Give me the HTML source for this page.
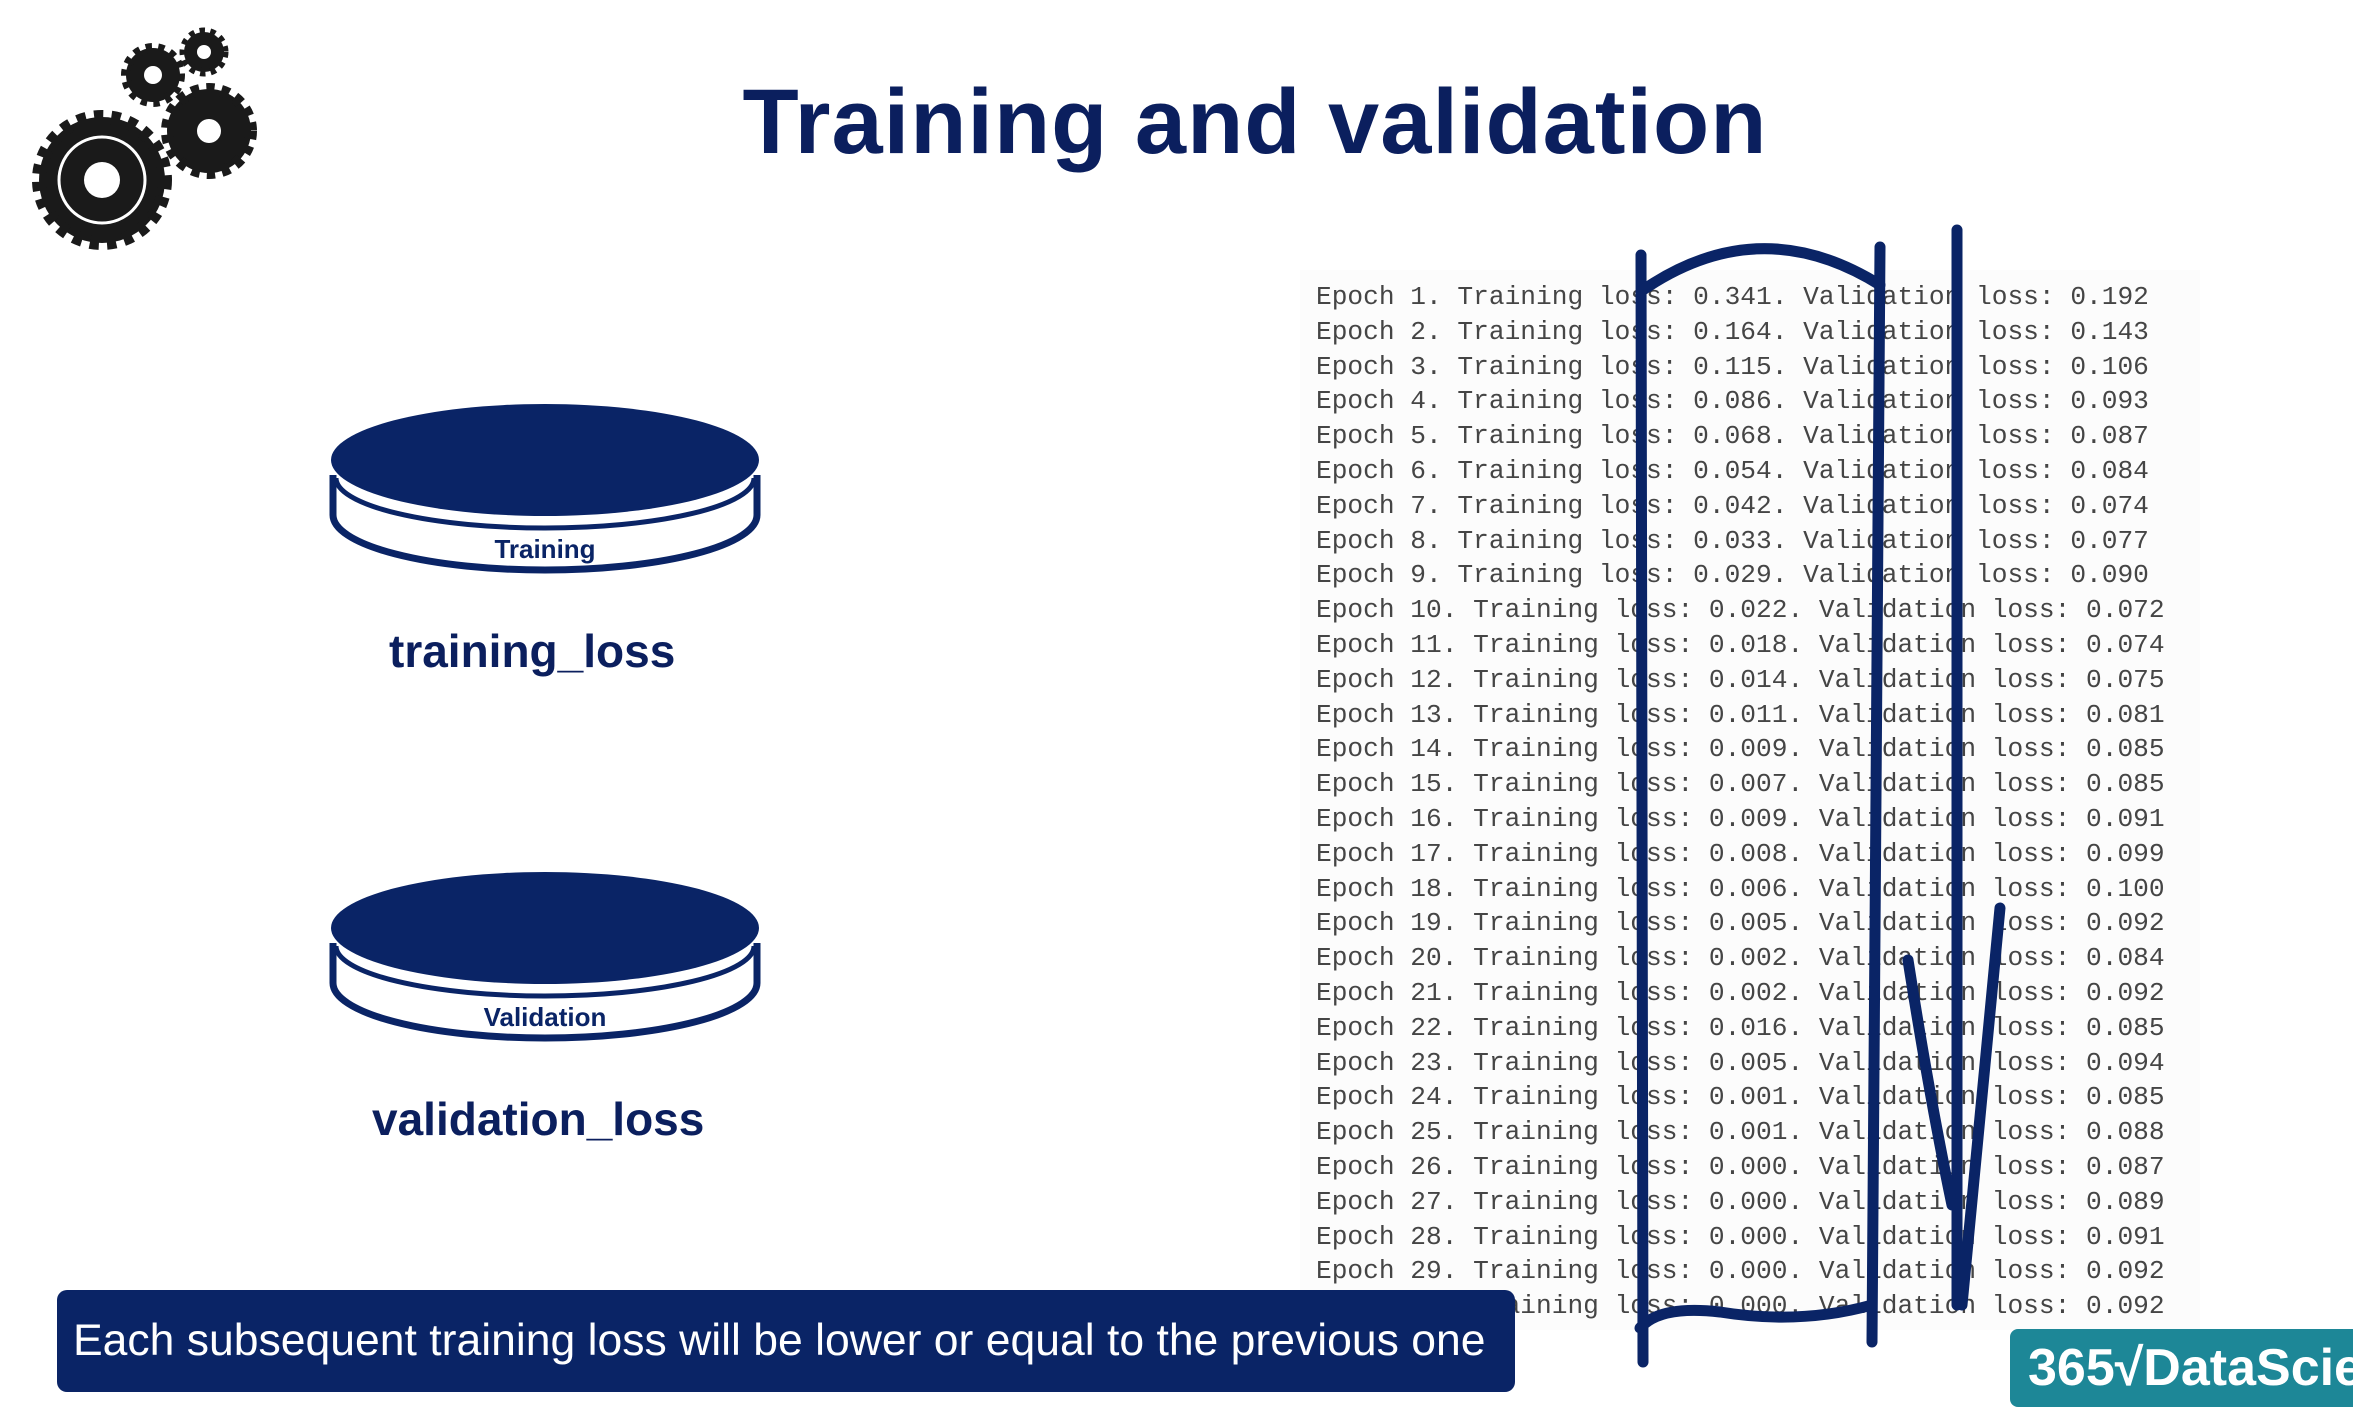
<!DOCTYPE html>
<html><head><meta charset="utf-8"><style>
html,body{margin:0;padding:0;background:#fff;}
#root{position:relative;width:2353px;height:1407px;overflow:hidden;background:#fff;font-family:"Liberation Sans",sans-serif;}
.title{position:absolute;left:0;width:2510px;top:70px;text-align:center;font-size:92px;font-weight:bold;color:#0b1f5e;letter-spacing:1px;}
.lbl{position:absolute;font-size:46px;font-weight:bold;color:#0b1f5e;}
#log{position:absolute;left:1300px;top:270px;width:900px;height:1060px;background:#fcfcfc;}
.line{position:absolute;left:16px;font-family:"Liberation Mono",monospace;font-size:26.2px;color:#454545;white-space:pre;}
.banner{position:absolute;left:57px;top:1290px;width:1458px;height:102px;background:#0a2466;border-radius:10px;color:#fff;font-size:44.5px;line-height:102px;padding-left:16px;box-sizing:border-box;white-space:nowrap;}
.logo{position:absolute;left:2010px;top:1329px;width:360px;height:78px;background:#1d8797;border-radius:8px;color:#fff;font-size:52px;font-weight:bold;line-height:78px;padding-left:18px;box-sizing:border-box;white-space:nowrap;}
</style></head><body>
<div id="root">
<svg style="position:absolute;left:0;top:0" width="320" height="280">
 <g fill="#1a1a1a" stroke="#1a1a1a">
  <circle cx="102" cy="180" r="63" stroke-width="14" stroke-dasharray="9 8"/>
  <circle cx="209" cy="131" r="42" stroke-width="12" stroke-dasharray="8 7"/>
  <circle cx="153" cy="75" r="27" stroke-width="10" stroke-dasharray="6 6"/>
  <circle cx="204" cy="52" r="20" stroke-width="9" stroke-dasharray="5 5"/>
 </g>
 <circle cx="102" cy="180" r="43" fill="none" stroke="#fff" stroke-width="3"/>
 <circle cx="102" cy="180" r="18" fill="#fff"/>
 <circle cx="209" cy="131" r="12" fill="#fff"/>
 <circle cx="153" cy="75" r="9" fill="#fff"/>
 <circle cx="204" cy="52" r="7" fill="#fff"/>
</svg>
<div class="title">Training and validation</div>

<svg style="position:absolute;left:320px;top:390px" width="460" height="680">
 <g>
  <path d="M13 85 L13 125 A212 55 0 0 0 437 125 L437 85" fill="#fff" stroke="#0a2466" stroke-width="7"/>
  <path d="M16 88 A209 50 0 0 0 434 88" fill="none" stroke="#0a2466" stroke-width="5"/>
  <ellipse cx="225" cy="70" rx="214" ry="56" fill="#0a2466"/>
  <text x="225" y="168" text-anchor="middle" font-size="26" font-weight="bold" fill="#0a2466" font-family="Liberation Sans">Training</text>
 </g>
 <g transform="translate(0,468)">
  <path d="M13 85 L13 125 A212 55 0 0 0 437 125 L437 85" fill="#fff" stroke="#0a2466" stroke-width="7"/>
  <path d="M16 88 A209 50 0 0 0 434 88" fill="none" stroke="#0a2466" stroke-width="5"/>
  <ellipse cx="225" cy="70" rx="214" ry="56" fill="#0a2466"/>
  <text x="225" y="168" text-anchor="middle" font-size="26" font-weight="bold" fill="#0a2466" font-family="Liberation Sans">Validation</text>
 </g>
</svg>
<div class="lbl" style="left:389px;top:624px">training_loss</div>
<div class="lbl" style="left:372px;top:1092px">validation_loss</div>

<div id="log"></div>

<svg style="position:absolute;left:0;top:0" width="2353" height="1407">
 <g fill="none" stroke="#0a2466" stroke-width="11" stroke-linecap="round">
  <path d="M1641 255 L1643 1362"/>
  <path d="M1880 247 L1872 1342"/>
  <path d="M1643 290 Q1760 210 1880 285"/>
  <path d="M1640 1328 Q1660 1305 1720 1312 Q1800 1325 1872 1305"/>
  <path d="M1957 230 L1957 1305"/>
  <path d="M2000 908 L1962 1305"/>
  <path d="M1908 960 Q1930 1100 1952 1205"/>
 </g>
</svg>

<div class="banner">Each subsequent training loss will be lower or equal to the previous one</div>
<div class="logo">365√DataScience</div>
</div>
<script>
const epochs = [1,2,3,4,5,6,7,8,9,10,11,12,13,14,15,16,17,18,19,20,21,22,23,24,25,26,27,28,29,30];
const trainLoss = [0.341,0.164,0.115,0.086,0.068,0.054,0.042,0.033,0.029,0.022,0.018,0.014,0.011,0.009,0.007,0.009,0.008,0.006,0.005,0.002,0.002,0.016,0.005,0.001,0.001,0.000,0.000,0.000,0.000,0.000];
const valLoss = [0.192,0.143,0.106,0.093,0.087,0.084,0.074,0.077,0.090,0.072,0.074,0.075,0.081,0.085,0.085,0.091,0.099,0.100,0.092,0.084,0.092,0.085,0.094,0.085,0.088,0.087,0.089,0.091,0.092,0.092];
const log = document.getElementById('log');
epochs.forEach((e, i) => {
  const d = document.createElement('div');
  d.className = 'line';
  
  
  d.style.top = (12 + i * 34.8) + 'px';
  d.textContent = 'Epoch ' + e + '. Training loss: ' + trainLoss[i].toFixed(3) + '. Validation loss: ' + valLoss[i].toFixed(3);
  log.appendChild(d);
});
</script>
</body></html>
